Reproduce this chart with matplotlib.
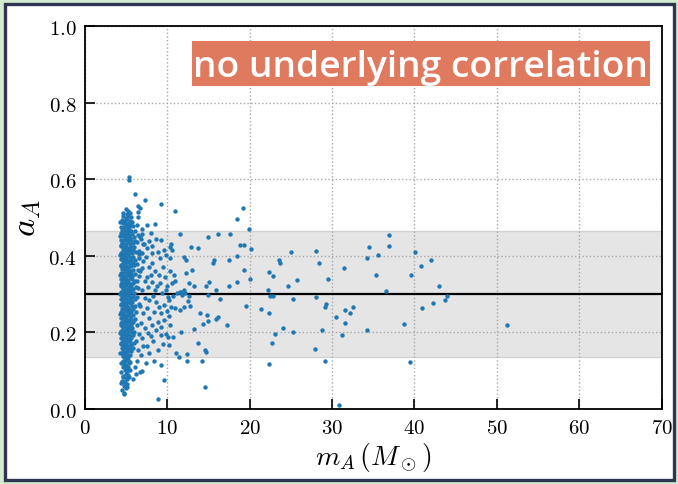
import numpy as np
import matplotlib
matplotlib.use('Agg')
import matplotlib.pyplot as plt
from matplotlib.patches import Rectangle

plt.rcParams['mathtext.fontset'] = 'cm'

# dense population near the lower mass gap edge
core_mass = [
    5.0, 5.3,
    4.7, 5.1, 5.5,
    4.6, 4.95, 5.25, 5.6,
    4.5, 4.85, 5.15, 5.45, 5.75,
    4.65, 5.0, 5.35, 5.55,
    4.45, 4.75, 5.1, 5.4, 5.85,
    4.55, 4.9, 5.2, 5.6, 6.15,
    4.4, 4.7, 5.05, 5.35, 5.7, 6.4,
    4.6, 4.85, 5.15, 5.5, 5.95, 6.7,
    4.45, 4.75, 5.0, 5.3, 5.65, 6.1,
    4.55, 4.9, 5.2, 5.45, 5.8, 6.35, 7.1,
    4.4, 4.7, 5.05, 5.35, 5.6, 6.0,
    4.6, 4.85, 5.15, 5.5, 5.9, 6.55,
    4.45, 4.75, 5.0, 5.3, 5.7, 6.2, 6.9,
    4.55, 4.9, 5.2, 5.45, 5.85,
    4.4, 4.7, 5.05, 5.35, 5.6, 6.05, 6.6,
    4.6, 4.85, 5.15, 5.5, 5.8, 6.3,
    4.45, 4.75, 5.0, 5.3, 5.65, 6.0, 7.0,
    4.55, 4.9, 5.2, 5.45, 5.9, 6.45,
    4.4, 4.7, 5.05, 5.35, 5.6, 6.15,
    4.6, 4.85, 5.15, 5.5, 5.75, 6.6,
    4.45, 4.75, 5.0, 5.3, 5.7, 6.05,
    4.55, 4.9, 5.2, 5.45, 5.85, 6.35,
    4.4, 4.7, 5.05, 5.35, 5.6, 6.2,
    4.6, 4.85, 5.15, 5.5, 5.8, 6.5,
    4.45, 4.75, 5.0, 5.3, 5.65, 6.0,
    4.55, 4.9, 5.2, 5.45, 5.9, 6.3,
    4.4, 4.7, 5.05, 5.35, 5.6, 6.1,
    4.6, 4.85, 5.15, 5.5, 5.75, 6.55,
    4.45, 4.75, 5.0, 5.3, 5.7, 6.05,
    4.55, 4.9, 5.2, 5.45, 5.85,
    4.4, 4.7, 5.05, 5.35, 5.6, 6.25,
    4.6, 4.85, 5.15, 5.5, 5.8,
    4.45, 4.75, 5.0, 5.3, 5.65, 6.1,
    4.55, 4.9, 5.2, 5.45, 5.9,
    4.4, 4.7, 5.05, 5.35, 5.6, 6.35,
    4.6, 4.85, 5.15, 5.5, 5.75,
    4.45, 4.75, 5.0, 5.3, 5.7, 6.0,
    4.55, 4.9, 5.2, 5.45, 5.85,
    4.4, 4.7, 5.05, 5.35, 5.6,
    4.6, 4.85, 5.15, 5.5, 6.2,
    4.45, 4.75, 5.0, 5.3, 5.65,
    4.55, 4.9, 5.2, 5.45, 5.9,
    4.7, 5.05, 5.35, 5.6,
    4.6, 4.85, 5.15, 5.5,
    4.75, 5.0, 5.3,
    4.65, 4.9, 5.2, 5.45,
    4.8, 5.05, 5.35,
    4.7, 4.95, 5.25,
    4.85, 5.1, 5.5,
    4.95, 5.2,
    4.7, 5.0, 5.35,
    4.55, 4.75,
    5.1, 5.15,
    5.05,
    4.8, 4.75,
]
core_spin = [
    0.522, 0.517,
    0.512, 0.508, 0.511,
    0.503, 0.499, 0.505, 0.501,
    0.494, 0.491, 0.496, 0.492, 0.489,
    0.485, 0.482, 0.486, 0.480,
    0.476, 0.474, 0.478, 0.473, 0.477,
    0.468, 0.465, 0.469, 0.464, 0.466,
    0.459, 0.456, 0.460, 0.455, 0.458, 0.454,
    0.451, 0.448, 0.452, 0.447, 0.450, 0.449,
    0.442, 0.440, 0.443, 0.439, 0.441, 0.438,
    0.434, 0.431, 0.435, 0.430, 0.433, 0.436, 0.432,
    0.425, 0.422, 0.426, 0.421, 0.424, 0.423,
    0.416, 0.414, 0.417, 0.413, 0.415, 0.412,
    0.408, 0.405, 0.409, 0.404, 0.407, 0.410, 0.406,
    0.399, 0.397, 0.400, 0.396, 0.398,
    0.391, 0.388, 0.392, 0.387, 0.390, 0.389, 0.393,
    0.382, 0.380, 0.383, 0.379, 0.381, 0.378,
    0.373, 0.371, 0.374, 0.370, 0.372, 0.375, 0.369,
    0.365, 0.362, 0.366, 0.361, 0.364, 0.363,
    0.356, 0.354, 0.357, 0.353, 0.355, 0.352,
    0.348, 0.345, 0.349, 0.344, 0.347, 0.346,
    0.339, 0.337, 0.340, 0.336, 0.338, 0.335,
    0.331, 0.328, 0.332, 0.327, 0.330, 0.333,
    0.322, 0.320, 0.323, 0.319, 0.321, 0.318,
    0.313, 0.311, 0.314, 0.310, 0.312, 0.315,
    0.305, 0.302, 0.306, 0.301, 0.304, 0.303,
    0.296, 0.294, 0.297, 0.293, 0.295, 0.292,
    0.288, 0.285, 0.289, 0.284, 0.287, 0.286,
    0.279, 0.277, 0.280, 0.276, 0.278, 0.275,
    0.271, 0.268, 0.272, 0.267, 0.270, 0.269,
    0.262, 0.260, 0.263, 0.259, 0.261,
    0.254, 0.251, 0.255, 0.250, 0.253, 0.252,
    0.245, 0.243, 0.246, 0.242, 0.244,
    0.237, 0.234, 0.238, 0.233, 0.236, 0.235,
    0.228, 0.226, 0.229, 0.225, 0.227,
    0.220, 0.217, 0.221, 0.216, 0.219, 0.218,
    0.211, 0.209, 0.212, 0.208, 0.210,
    0.203, 0.200, 0.204, 0.199, 0.202, 0.201,
    0.194, 0.192, 0.195, 0.191, 0.193,
    0.186, 0.183, 0.187, 0.182, 0.185,
    0.177, 0.175, 0.178, 0.174, 0.176,
    0.169, 0.166, 0.170, 0.165, 0.168,
    0.160, 0.158, 0.161, 0.157, 0.159,
    0.152, 0.149, 0.153, 0.150,
    0.143, 0.141, 0.144, 0.140,
    0.135, 0.132, 0.136,
    0.126, 0.124, 0.127, 0.123,
    0.118, 0.115, 0.119,
    0.109, 0.107, 0.110,
    0.101, 0.098, 0.102,
    0.092, 0.089,
    0.083, 0.080, 0.084,
    0.074, 0.071,
    0.064, 0.058,
    0.054,
    0.042, 0.039,
]

# second, offset layer of the core so the column reads as solid
inner_mass = [
    4.3, 4.8, 5.2, 4.3, 4.95, 5.4, 4.35, 4.8, 5.25, 4.3,
    4.65, 5.1, 4.35, 4.8, 5.3, 4.3, 4.65, 5.0, 4.35, 4.8,
    5.25, 4.3, 4.7, 5.1, 4.35, 4.8, 5.3, 4.3, 4.65, 5.05,
    4.35, 4.8, 5.25, 4.3, 4.7, 5.1, 4.35, 4.8, 5.3, 4.3,
    4.65, 5.0, 4.4, 4.8, 5.25, 4.35, 4.7, 5.1, 4.45, 4.8,
    4.5, 4.9,
]
inner_spin = [
    0.487, 0.470, 0.462, 0.452, 0.445, 0.437, 0.428, 0.419, 0.411, 0.402,
    0.394, 0.385, 0.377, 0.368, 0.359, 0.350, 0.342, 0.334, 0.325, 0.316,
    0.308, 0.299, 0.290, 0.282, 0.273, 0.265, 0.257, 0.248, 0.240, 0.231,
    0.223, 0.214, 0.206, 0.197, 0.189, 0.180, 0.172, 0.163, 0.155, 0.146,
    0.138, 0.129, 0.121, 0.112, 0.104, 0.095, 0.086, 0.078, 0.067, 0.060,
    0.048, 0.069,
]

# points thinning out just above the core
fringe_mass = [
    5.37, 5.42, 6.1, 7.35, 6.5, 6.65, 6.4, 6.3, 6.5, 7.6,
    7.0, 6.8, 7.75, 8.2, 7.55, 8.15, 9.1, 7.4, 8.1, 9.8, 9.6,
    7.75, 8.5, 9.0, 7.5, 8.2, 9.1, 10.0, 7.7, 8.5, 9.4, 10.1,
    7.8, 8.7, 9.65, 10.5, 7.6, 8.4, 9.25, 10.2, 7.8, 8.9, 9.65,
    8.1, 8.6, 7.65, 9.25, 7.0, 8.3, 7.55, 6.5, 7.8, 6.0,
    6.9, 7.2, 6.6, 7.1, 6.75, 7.25, 6.9, 7.3, 6.7, 7.1, 6.85,
    7.3, 6.6, 7.05, 6.8, 6.35, 6.9, 6.75, 5.8, 6.1, 8.4, 9.25,
    9.65, 8.9, 8.0, 8.6, 9.3, 8.9, 10.3, 9.5, 10.4, 8.0, 9.7,
    8.8, 9.9, 8.3, 9.0, 10.0, 9.2, 10.3, 8.0, 9.9, 8.9, 7.4, 6.2,
]
fringe_spin = [
    0.607, 0.598, 0.561, 0.547, 0.531, 0.524, 0.514, 0.480, 0.500, 0.480,
    0.458, 0.443, 0.439, 0.426, 0.419, 0.406, 0.393, 0.396, 0.380, 0.402, 0.415,
    0.371, 0.361, 0.350, 0.345, 0.332, 0.330, 0.321, 0.319, 0.310, 0.302, 0.293,
    0.284, 0.280, 0.271, 0.267, 0.263, 0.254, 0.250, 0.243, 0.237, 0.228, 0.233,
    0.219, 0.206, 0.197, 0.193, 0.184, 0.176, 0.163, 0.154, 0.145, 0.171,
    0.470, 0.430, 0.405, 0.385, 0.360, 0.335, 0.310, 0.290, 0.270, 0.250, 0.225,
    0.210, 0.195, 0.165, 0.140, 0.125, 0.100, 0.095, 0.079, 0.110, 0.125, 0.115,
    0.076, 0.026, 0.460, 0.445, 0.440, 0.410, 0.395, 0.370, 0.360, 0.350, 0.345,
    0.320, 0.310, 0.295, 0.265, 0.255, 0.215, 0.220, 0.190, 0.195, 0.155, 0.120, 0.090,
]

# sparse high-mass tail
tail_mass = [
    10.95, 9.25, 8.48, 19.2, 18.5, 19.95, 17.6, 16.16, 14.98, 11.5,
    10.5, 10.4, 10.6, 12.9, 13.8, 12.0, 15.7, 15.5, 17.45, 18.5,
    18.8, 19.3, 20.15, 19.35, 20.0, 18.5, 17.5, 16.4, 15.07, 14.7,
    15.96, 12.3, 13.0, 12.6, 13.2, 10.8, 10.9, 10.6, 12.3, 11.5,
    11.8, 12.1, 14.9, 14.0, 14.8, 14.4, 15.0, 15.9, 16.2, 17.3,
    13.2, 11.7, 10.74, 10.1, 9.53, 10.26, 11.1, 11.4, 12.36, 12.4,
    14.18, 14.6, 14.65, 13.7, 14.58, 19.6,
    10.7, 11.2, 11.7, 12.2, 12.6, 11.0, 12.0, 12.55, 12.8, 11.6, 10.2,
    36.9, 36.9, 34.5, 28.1, 35.6, 34.2, 40.1, 28.36, 42.0, 40.85,
    31.5, 35.3, 39.55, 29.5, 43.0, 36.5, 43.9, 43.7, 28.1, 29.3,
    29.1, 32.6, 31.6, 32.2, 42.3, 40.9, 30.5, 31.6, 38.7, 51.2,
    28.8, 34.2, 31.2, 27.9, 29.2, 39.4,
    25.0, 23.6, 23.65, 22.4, 22.8, 25.7, 24.6, 22.2, 22.46, 22.86,
    25.3, 21.4, 22.4, 24.0, 25.3, 23.07, 22.7, 22.4, 30.9,
]
tail_spin = [
    0.517, 0.535, 0.482, 0.524, 0.495, 0.470, 0.458, 0.456, 0.449, 0.456,
    0.432, 0.424, 0.415, 0.423, 0.419, 0.397, 0.389, 0.381, 0.389, 0.399,
    0.428, 0.428, 0.417, 0.362, 0.340, 0.332, 0.321, 0.288, 0.331, 0.321,
    0.310, 0.356, 0.363, 0.330, 0.321, 0.350, 0.335, 0.330, 0.390, 0.305,
    0.298, 0.310, 0.297, 0.250, 0.244, 0.222, 0.230, 0.235, 0.241, 0.220,
    0.209, 0.200, 0.189, 0.189, 0.169, 0.167, 0.146, 0.135, 0.143, 0.126,
    0.124, 0.154, 0.149, 0.173, 0.058, 0.270,
    0.296, 0.302, 0.304, 0.302, 0.296, 0.263, 0.267, 0.283, 0.270, 0.258, 0.284,
    0.455, 0.426, 0.423, 0.413, 0.403, 0.395, 0.409, 0.381, 0.389, 0.374,
    0.367, 0.351, 0.349, 0.339, 0.322, 0.309, 0.296, 0.284, 0.291, 0.275,
    0.267, 0.267, 0.259, 0.250, 0.276, 0.264, 0.241, 0.223, 0.222, 0.220,
    0.205, 0.207, 0.194, 0.156, 0.126, 0.123,
    0.411, 0.389, 0.380, 0.357, 0.348, 0.336, 0.321, 0.310, 0.294, 0.296,
    0.288, 0.262, 0.251, 0.212, 0.200, 0.196, 0.172, 0.117, 0.010,
]

spin_mean = 0.30
spin_width = 0.165

x_ticks = [0, 10, 20, 30, 40, 50, 60, 70]
y_ticks = [0.0, 0.2, 0.4, 0.6, 0.8, 1.0]

mass = np.array(core_mass + inner_mass + fringe_mass + tail_mass)
spin = np.array(core_spin + inner_spin + fringe_spin + tail_spin)

fig = plt.figure(figsize=(6.78, 4.85), dpi=100)
fig.patch.set_facecolor('#d3ebcf')
fig.patches.append(Rectangle((5/678, 4/485), 669/678, 476/485, transform=fig.transFigure,
                             facecolor='white', edgecolor='#2f3550', lw=2.4, zorder=-10))

ax = fig.add_axes([0.125, 0.155, 0.851, 0.789])
ax.axhspan(spin_mean - spin_width, spin_mean + spin_width, facecolor='#e5e5e5',
           edgecolor='#d2d2d2', lw=1, zorder=0)
ax.grid(True, ls=':', color='#a8a8a8', lw=1, zorder=1)
ax.set_axisbelow(True)
ax.axhline(spin_mean, color='black', lw=1.6, zorder=2)
ax.scatter(mass, spin, s=10, color='#1f77b4', linewidths=0, zorder=3)

ax.set_xlim(0, 70)
ax.set_ylim(0, 1)
ax.set_xticks(x_ticks)
ax.set_yticks(y_ticks)
ax.set_xticklabels(['$%d$' % t for t in x_ticks], fontsize=15)
ax.set_yticklabels(['$%.1f$' % t for t in y_ticks], fontsize=15)
ax.tick_params(direction='in', length=7, width=1.2, top=False, right=False, pad=6)
for s in ax.spines.values():
    s.set_linewidth(1.3)

ax.set_xlabel(r'$m_A\,(M_\odot)$', fontsize=20, labelpad=2)
ax.set_ylabel(r'$a_A$', fontsize=25, labelpad=4)

ax.add_patch(Rectangle((0.186, 0.843), 0.793, 0.118, transform=ax.transAxes,
                       facecolor='#e07a5f', edgecolor='none', zorder=5, clip_on=False))
ax.text(0.5825, 0.870, 'no underlying correlation', transform=ax.transAxes,
        ha='center', va='baseline', color='white', fontsize=26.8,
        family='Open Sans', weight='semibold', zorder=6)

fig.savefig('out.png', dpi=100)
